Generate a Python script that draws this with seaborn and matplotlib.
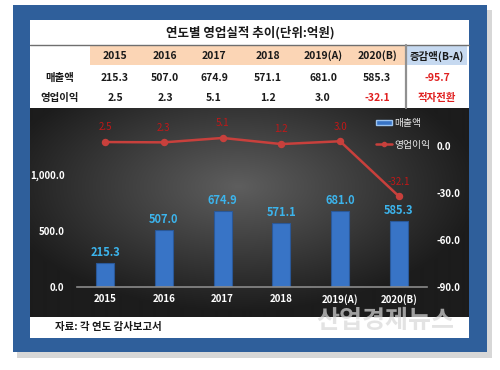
import numpy as np
import pandas as pd
import matplotlib
matplotlib.use('Agg')
import matplotlib.pyplot as plt
import seaborn as sns
from matplotlib.patches import Rectangle, Patch
from matplotlib.lines import Line2D
from matplotlib.ticker import FuncFormatter

years = ['2015', '2016', '2017', '2018', '2019(A)', '2020(B)']
sales = [215.3, 507.0, 674.9, 571.1, 681.0, 585.3]
profit = [2.5, 2.3, 5.1, 1.2, 3.0, -32.1]
sales_change = '-95.7'
profit_change = '적자전환'

sns.set_theme(style='white')
plt.rcParams['font.family'] = ['Noto Sans CJK KR', 'DejaVu Sans']

W, H = 500, 370
fig = plt.figure(figsize=(5, 3.7), dpi=100)
fig.patch.set_facecolor('white')


def fx(x):
    return x / W


def fy(y):
    return 1 - y / H


def rect(x0, y0, x1, y1, color, alpha=1.0, z=0):
    fig.patches.append(Rectangle((fx(x0), fy(y1)), (x1 - x0) / W, (y1 - y0) / H,
                                 transform=fig.transFigure, facecolor=color,
                                 edgecolor='none', alpha=alpha, zorder=z))


# frame, shadow and white panel
rect(17, 10, 492, 358, '#b0b0b0', alpha=0.5, z=0)
rect(13, 5, 487, 352, '#2f5f9b', z=1)
rect(30, 20, 469, 338, 'white', z=2)
rect(90, 45, 405, 65, '#fbd5b5', z=3)
rect(407, 45, 467, 65, '#c6d9f0', z=3)
fig.lines.append(Line2D([fx(30), fx(469)], [fy(45), fy(45)], transform=fig.transFigure,
                        color='#6f6f6f', lw=1, zorder=4))
fig.lines.append(Line2D([fx(406), fx(406)], [fy(45), fy(108)], transform=fig.transFigure,
                        color='#909090', lw=1.6, zorder=4))

# table text
def txt(x, y, s, size=8, color='#1a1a1a', weight='bold', ha='center'):
    fig.text(fx(x), fy(y), s, fontsize=size, color=color, fontweight=weight,
             ha=ha, va='center', zorder=5)


txt(250, 33, '연도별 영업실적 추이(단위:억원)', size=9)
col_x = [115, 165, 214, 268, 323, 377]
for x, yr in zip(col_x, years):
    txt(x, 56, yr, size=7.5)
txt(437, 56, '증감액(B-A)', size=7.5)
txt(60, 78, '매출액', size=7.5)
txt(60, 98, '영업이익', size=7.5)
for x, v in zip(col_x, sales):
    txt(x, 78, f'{v:.1f}', size=7.5)
for x, v in zip(col_x, profit):
    txt(x, 98, f'{v:.1f}', size=7.5, color='#e02020' if v < 0 else '#1a1a1a')
txt(437, 78, sales_change, size=7.5, color='#e02020')
txt(437, 98, profit_change, size=7.5, color='#e02020')
txt(55, 327, '자료: 각 연도 감사보고서', size=7.5, ha='left')

# dark gradient background
bg = fig.add_axes([fx(30), fy(317), (469 - 30) / W, (317 - 108) / H], zorder=3)
gx, gy = np.meshgrid(np.linspace(-1, 1, 440), np.linspace(-1, 1, 209))
r = np.clip(np.sqrt(((gx + 0.05) / 1.1) ** 2 + ((gy + 0.25) / 1.2) ** 2), 0, 1)
c0 = np.array([0x5e, 0x5e, 0x5e]) / 255
c1 = np.array([0x1c, 0x1c, 0x1c]) / 255
img = c0[None, None, :] * (1 - r[..., None]) + c1[None, None, :] * r[..., None]
bg.imshow(img, aspect='auto', interpolation='bilinear')
bg.axis('off')

# main chart
ax = fig.add_axes([fx(77), fy(287), 350 / W, 168 / H], zorder=4)
ax.patch.set_alpha(0)
df = pd.DataFrame({'year': years, 'sales': sales, 'profit': profit})
sns.barplot(data=df, x='year', y='sales', ax=ax, color='#3874c6', width=0.31,
            saturation=1, edgecolor='#2a5898', linewidth=0.8)
ax.bar_label(ax.containers[0], fmt='%.1f', padding=3, color='#3cb4ec',
             fontsize=8, fontweight='bold')
ax.set_ylim(0, 1500)
ax.set_xlim(-0.48, 5.48)
ax.set_yticks([0, 500, 1000])
ax.yaxis.set_major_formatter(FuncFormatter(lambda v, p: f'{v:,.1f}'))
ax.set_xlabel('')
ax.set_ylabel('')
for s in ['top', 'left', 'right']:
    ax.spines[s].set_visible(False)
ax.spines['bottom'].set_color('#8a8a8a')
ax.spines['bottom'].set_linewidth(1.2)
ax.tick_params(axis='both', length=0, colors='white', labelsize=7)
ax.tick_params(axis='y', pad=9)
ax.tick_params(axis='x', pad=5)
for lab in ax.get_xticklabels() + ax.get_yticklabels():
    lab.set_fontweight('bold')

ax2 = ax.twinx()
ax2.patch.set_alpha(0)
sns.pointplot(data=df, x='year', y='profit', ax=ax2, color='#c8403c',
              markers='o', markersize=4, linewidth=1.8)
for i, v in enumerate(profit):
    ax2.annotate(f'{v:.1f}', (i, v), xytext=(0, 7), textcoords='offset points',
                 ha='center', va='bottom', color='#c01818', fontsize=7)
ax2.set_ylim(-90, 17.2)
ax2.set_yticks([-90, -60, -30, 0])
ax2.yaxis.set_major_formatter(FuncFormatter(lambda v, p: f'{v:.1f}'))
ax2.set_ylabel('')
for s in ax2.spines.values():
    s.set_visible(False)
ax2.tick_params(axis='y', length=0, colors='white', labelsize=7, pad=7)
for lab in ax2.get_yticklabels():
    lab.set_fontweight('bold')
ax2.set_xlim(-0.48, 5.48)

handles = [Patch(facecolor='#3874c6', edgecolor='#9cc4f0', label='매출액'),
           Line2D([], [], color='#c8403c', lw=1.8, marker='o', markersize=3, label='영업이익')]
leg = fig.legend(handles=handles, loc='upper left', bbox_to_anchor=(fx(374), fy(116)),
                 frameon=False, fontsize=7, labelcolor='#e8e8e8', handlelength=1.6,
                 handleheight=0.5, handletextpad=0.3, labelspacing=1.2,
                 borderaxespad=0, borderpad=0.2)
leg.set_zorder(6)

# watermark
fig.text(fx(385), fy(321), '산업경제뉴스', fontsize=18, color='#d8d8d8', alpha=0.7,
         ha='center', va='center', fontweight='bold', zorder=7)

fig.savefig('out.png', dpi=100)
